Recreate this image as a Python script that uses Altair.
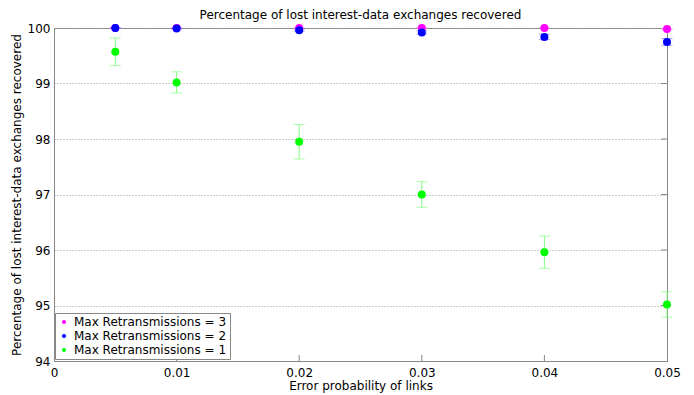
import altair as alt
import pandas as pd

# Error probability of links
error_prob = [0.005, 0.01, 0.02, 0.03, 0.04, 0.05]

# Mean recovery percentage and error-bar half width per retransmission limit
rec_3 = [100.0, 100.0, 100.0, 100.0, 100.0, 99.98]
err_3 = [0.0, 0.0, 0.0, 0.0, 0.0, 0.01]
rec_2 = [100.0, 99.99, 99.96, 99.92, 99.84, 99.75]
err_2 = [0.0, 0.01, 0.02, 0.03, 0.05, 0.06]
rec_1 = [99.57, 99.02, 97.95, 97.0, 95.96, 95.02]
err_1 = [0.25, 0.19, 0.31, 0.23, 0.29, 0.23]

series_names = ["Max Retransmissions = 3", "Max Retransmissions = 2", "Max Retransmissions = 1"]
marker_colors = ["#ff00ff", "#0000ff", "#00ff00"]
bar_colors = ["#ff80ff", "#8080ff", "#80ff80"]

x_ticks = [0, 0.01, 0.02, 0.03, 0.04, 0.05]
y_ticks = [94, 95, 96, 97, 98, 99, 100]

W, H = 613, 333

rows = []
for name, rec, err in zip(series_names, [rec_3, rec_2, rec_1], [err_3, err_2, err_1]):
    for p, r, e in zip(error_prob, rec, err):
        rows.append({"p": p, "rec": r, "lo": r - e, "hi": r + e, "series": name})
df = pd.DataFrame(rows)
# series 3 drawn first, so series 2 sits on top of it
df["order"] = df["series"].map({series_names[0]: 0, series_names[1]: 1, series_names[2]: 2})
df = df.sort_values("order")

x_scale = alt.Scale(domain=[0, 0.05], nice=False)
y_scale = alt.Scale(domain=[94, 100], nice=False)

base = alt.Chart(df)
bar_color = alt.Color("series:N", scale=alt.Scale(domain=series_names, range=bar_colors), legend=None)

bars = base.mark_rule(strokeWidth=1, clip=False).encode(
    x=alt.X("p:Q", scale=x_scale),
    y=alt.Y("lo:Q", scale=y_scale),
    y2="hi:Q",
    color=bar_color,
)
caps_lo = base.mark_tick(orient="horizontal", size=11, thickness=1, clip=False).encode(
    x=alt.X("p:Q", scale=x_scale),
    y=alt.Y("lo:Q", scale=y_scale),
    color=bar_color,
)
caps_hi = base.mark_tick(orient="horizontal", size=11, thickness=1, clip=False).encode(
    x=alt.X("p:Q", scale=x_scale),
    y=alt.Y("hi:Q", scale=y_scale),
    color=bar_color,
)

points = base.mark_point(filled=True, shape="circle", size=64, opacity=1, clip=False).encode(
    x=alt.X(
        "p:Q",
        scale=x_scale,
        title="Error probability of links",
        axis=alt.Axis(
            values=x_ticks, format="~g", grid=False, tickSize=0, labelPadding=6, labelFlush=False
        ),
    ),
    y=alt.Y(
        "rec:Q",
        scale=y_scale,
        title="Percentage of lost interest-data exchanges recovered",
        axis=alt.Axis(
            values=y_ticks,
            format="d",
            grid=True,
            gridDash=[1, 2],
            gridColor="#999999",
            tickSize=0,
            labelPadding=4,
            labelFlush=False,
        ),
    ),
    color=alt.Color(
        "series:N",
        scale=alt.Scale(domain=series_names, range=marker_colors),
        legend=alt.Legend(
            title=None,
            orient="none",
            legendX=1,
            legendY=285,
            symbolType="circle",
            symbolSize=18,
            labelFontSize=12,
            labelFont="DejaVu Sans",
            labelColor="#000000",
            labelOffset=4,
            strokeColor="#888888",
            fillColor="#ffffff",
            padding=3,
            rowPadding=2,
            symbolOffset=0,
        ),
    ),
    order=alt.Order("order:Q"),
)

# inward tick marks along the bottom and right edges of the frame
tick_x_df = pd.DataFrame({"t": x_ticks[1:-1]})
tick_y_df = pd.DataFrame({"t": y_ticks[1:-1]})
bottom_ticks = alt.Chart(tick_x_df).mark_rule(color="#888888", strokeWidth=1).encode(
    x=alt.X("t:Q", scale=x_scale), y=alt.value(H), y2=alt.value(H - 6)
)
right_ticks = alt.Chart(tick_y_df).mark_rule(color="#888888", strokeWidth=1).encode(
    y=alt.Y("t:Q", scale=y_scale), x=alt.value(W - 6), x2=alt.value(W)
)

chart = (
    alt.layer(bottom_ticks, right_ticks, bars, caps_lo, caps_hi, points)
    .resolve_scale(color="independent")
    .properties(
        width=W,
        height=H,
        title=alt.TitleParams(
            "Percentage of lost interest-data exchanges recovered",
            font="DejaVu Sans",
            fontSize=12,
            fontWeight="normal",
            anchor="middle",
            offset=0,
        ),
        autosize=alt.AutoSizeParams(type="none"),
        padding={"left": 54, "top": 28, "right": 27, "bottom": 34},
        background="#ffffff",
    )
    .configure_view(stroke="#888888", strokeWidth=1)
    .configure_axis(
        domainColor="#888888",
        labelFont="DejaVu Sans",
        labelFontSize=12,
        labelColor="#000000",
        titleFont="DejaVu Sans",
        titleFontSize=12,
        titleFontWeight="normal",
        titleColor="#000000",
    )
    .configure_axisX(titlePadding=2)
    .configure_axisY(titlePadding=4)
)

chart.save("out.html", embed_options={"renderer": "svg", "actions": False})
